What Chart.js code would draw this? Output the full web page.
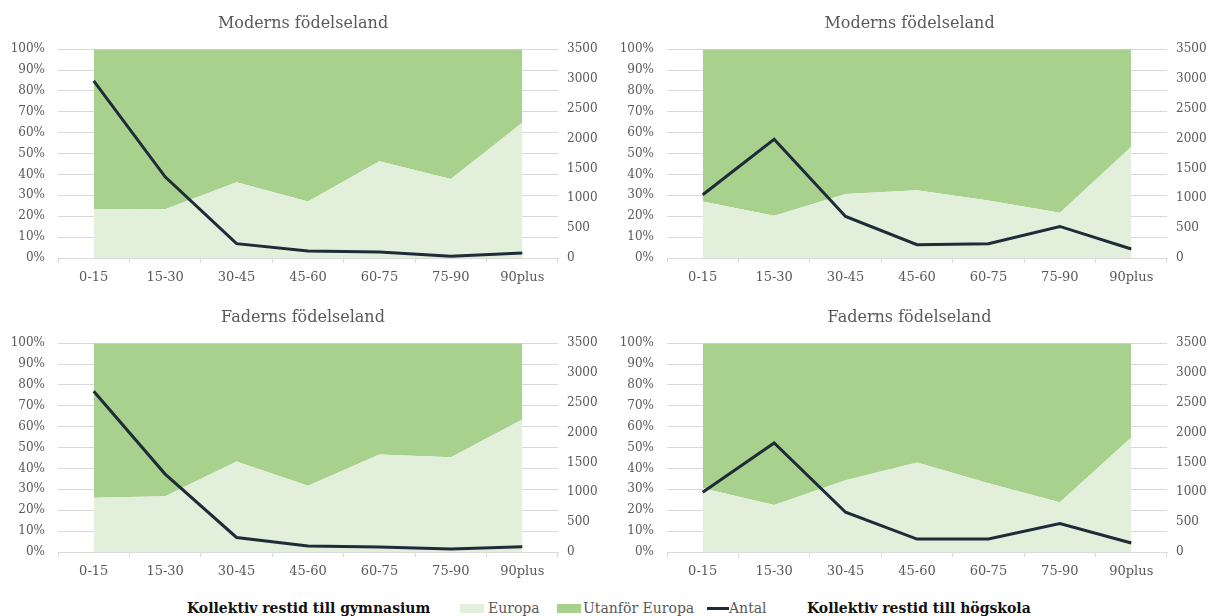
<!DOCTYPE html>
<html>
<head>
<meta charset="utf-8">
<script src="https://cdn.jsdelivr.net/npm/chart.js@4.4.1/dist/chart.umd.min.js"></script>
<style>
  body { margin: 0; background: #fff; width: 1213px; height: 616px; position: relative; overflow: hidden; font-family: "DejaVu Serif", serif; color: #595959; }
  .panel { position: absolute; }
  .legend { position: absolute; left: 0; top: 599px; width: 1213px; height: 17px; font-size: 14px; }
  .legend span { position: absolute; top: 0; line-height: 18px; white-space: nowrap; }
  .legend .cap { font-weight: bold; color: #111; font-size: 14px; }
  .legend .sw { top: 5px; width: 24px; height: 9px; }
  .legend .ln { top: 8px; width: 22px; height: 3px; }
</style>
</head>
<body>
<canvas id="gymMor" class="panel" width="606" height="294" style="left:0;top:0"></canvas>
<canvas id="hogMor" class="panel" width="607" height="294" style="left:606px;top:0"></canvas>
<canvas id="gymFar" class="panel" width="606" height="294" style="left:0;top:294px"></canvas>
<canvas id="hogFar" class="panel" width="607" height="294" style="left:606px;top:294px"></canvas>
<div class="legend">
  <span class="cap" style="left:187px">Kollektiv restid till gymnasium</span>
  <span class="sw" style="left:460px;background:#e2efda"></span>
  <span style="left:488px">Europa</span>
  <span class="sw" style="left:557px;background:#a9d18e"></span>
  <span style="left:583px">Utanför Europa</span>
  <span class="ln" style="left:707px;background:#1e2b38"></span>
  <span style="left:729px">Antal</span>
  <span class="cap" style="left:807px">Kollektiv restid till högskola</span>
</div>
<script>
const categories = ["0-15", "15-30", "30-45", "45-60", "60-75", "75-90", "90plus"];

// Andel (%) med Europa / utanför Europa som födelseland, och antal elever
const gymMorEuropa  = [23.5, 23.3, 36.3, 27.0, 46.3, 37.8, 64.8];
const gymMorUtanfor = [76.5, 76.7, 63.7, 73.0, 53.7, 62.2, 35.2];
const gymMorAntal   = [2970, 1360, 240, 117, 100, 28, 83];

const hogMorEuropa  = [27.0, 20.2, 30.7, 32.5, 27.5, 21.7, 53.3];
const hogMorUtanfor = [73.0, 79.8, 69.3, 67.5, 72.5, 78.3, 46.7];
const hogMorAntal   = [1060, 1990, 697, 223, 240, 529, 150];

const gymFarEuropa  = [26.0, 26.7, 43.3, 31.7, 46.7, 45.4, 63.5];
const gymFarUtanfor = [74.0, 73.3, 56.7, 68.3, 53.3, 54.6, 36.5];
const gymFarAntal   = [2694, 1306, 244, 100, 83, 50, 89];

const hogFarEuropa  = [30.5, 22.5, 34.4, 42.9, 32.9, 23.8, 54.8];
const hogFarUtanfor = [69.5, 77.5, 65.6, 57.1, 67.1, 76.2, 45.2];
const hogFarAntal   = [1000, 1828, 667, 217, 217, 478, 150];

const TEXT = "#595959";
const GRID = "#d9d9d9";
const EUROPA = "#e2efda";
const UTANFOR = "#a9d18e";
const LINE = "#1e2b38";
const FAMILY = '"DejaVu Serif", serif';
const el = (id) => document.getElementById(id);

function buildChart(id, title, europa, utanfor, antal, leftW, rightW) {
  return new Chart(el(id), {
    type: "line",
    data: {
      labels: categories,
      datasets: [
        { label: "Antal", data: antal, yAxisID: "y1", borderColor: LINE, borderWidth: 3, pointRadius: 0, fill: false, tension: 0 },
        { label: "Europa", data: europa, yAxisID: "y", backgroundColor: EUROPA, borderColor: "rgba(0,0,0,0)", borderWidth: 0, pointRadius: 0, fill: "origin" },
        { label: "Utanför Europa", data: utanfor, yAxisID: "y", backgroundColor: UTANFOR, borderColor: "rgba(0,0,0,0)", borderWidth: 0, pointRadius: 0, fill: "-1" },
      ]
    },
    options: {
      responsive: false,
      animation: false,
      layout: { padding: 0 },
      plugins: {
        legend: { display: false },
        tooltip: { enabled: false },
        title: { display: true, text: title, color: TEXT, font: { family: FAMILY, size: 16, weight: "normal" }, padding: { top: 14, bottom: 16 } }
      },
      scales: {
        x: {
          offset: true,
          grid: { offset: true, drawOnChartArea: false, tickLength: 5, color: GRID },
          border: { color: GRID },
          ticks: { color: TEXT, font: { family: FAMILY, size: 13 }, padding: 7, maxRotation: 0 },
          afterFit: (s) => { s.height = 36; }
        },
        y: {
          stacked: true, min: 0, max: 100,
          grid: { color: GRID, drawTicks: false },
          border: { display: false },
          ticks: { stepSize: 10, color: TEXT, font: { family: FAMILY, size: 12 }, padding: 13, callback: (v) => `${v}%` },
          afterFit: (s) => { s.width = leftW; }
        },
        y1: {
          position: "right", min: 0, max: 3500,
          grid: { display: false, drawTicks: false },
          border: { display: false },
          ticks: { stepSize: 500, color: TEXT, font: { family: FAMILY, size: 12 }, padding: 9, callback: (v) => `${v}` },
          afterFit: (s) => { s.width = rightW; }
        }
      }
    }
  });
}

buildChart("gymMor", "Moderns födelseland", gymMorEuropa, gymMorUtanfor, gymMorAntal, 58, 48);
buildChart("hogMor", "Moderns födelseland", hogMorEuropa, hogMorUtanfor, hogMorAntal, 61, 46);
buildChart("gymFar", "Faderns födelseland", gymFarEuropa, gymFarUtanfor, gymFarAntal, 58, 48);
buildChart("hogFar", "Faderns födelseland", hogFarEuropa, hogFarUtanfor, hogFarAntal, 61, 46);
</script>
</body>
</html>
